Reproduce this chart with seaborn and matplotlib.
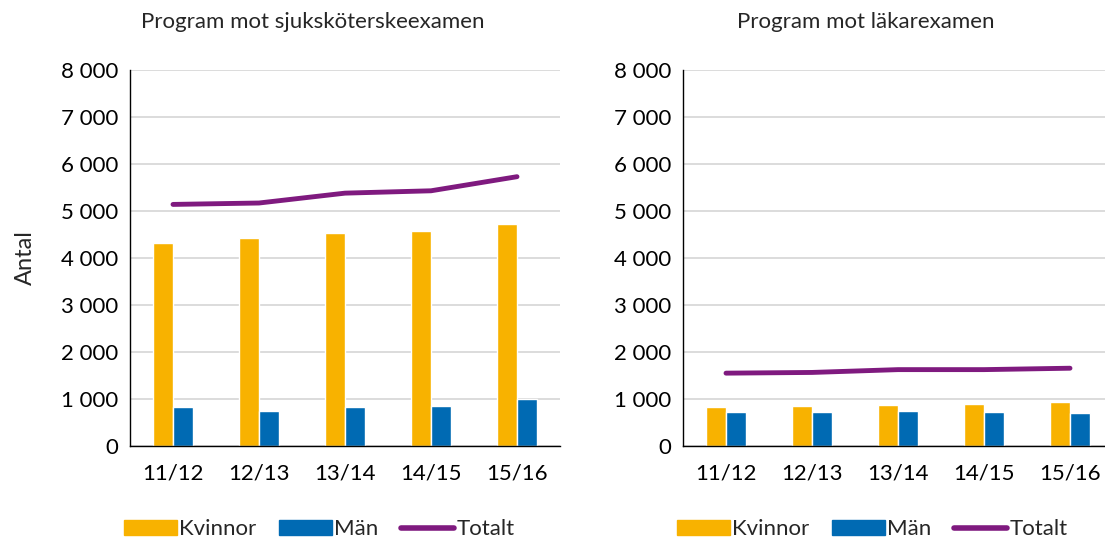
import pandas as pd
import matplotlib.pyplot as plt
import seaborn as sns
from matplotlib.patches import Patch
from matplotlib.lines import Line2D
from matplotlib.ticker import FuncFormatter

# läsår
years = ['11/12', '12/13', '13/14', '14/15', '15/16']

# sjuksköterskeexamen
sjuk_kvinnor = [4310, 4430, 4540, 4570, 4730]
sjuk_man = [830, 740, 840, 860, 1000]

# läkarexamen
lak_kvinnor = [820, 845, 880, 900, 945]
lak_man = [730, 720, 745, 725, 710]

titles = ['Program mot sjuksköterskeexamen', 'Program mot läkarexamen']
colors = {'Kvinnor': '#F8B200', 'Män': '#006AB3'}
total_color = '#7F1A7F'

sns.set_style('white')
plt.rcParams['font.family'] = ['Lato', 'DejaVu Sans']
plt.rcParams['font.size'] = 16


def make_df(kvinnor, man):
    rows = []
    for y, k, m in zip(years, kvinnor, man):
        rows.append([y, 'Kvinnor', k])
        rows.append([y, 'Män', m])
    return pd.DataFrame(rows, columns=['year', 'kon', 'antal'])


def draw(ax, kvinnor, man, title):
    df = make_df(kvinnor, man)
    sns.barplot(data=df, x='year', y='antal', hue='kon', palette=colors,
                width=0.47, ax=ax, legend=False, saturation=1)
    tot = pd.DataFrame({'year': years,
                        'antal': [k + m for k, m in zip(kvinnor, man)]})
    sns.lineplot(data=tot, x='year', y='antal', color=total_color,
                 linewidth=3.5, ax=ax, legend=False,
                 solid_capstyle='round')
    ax.set_ylim(0, 8000)
    ax.set_xlim(-0.5, 4.5)
    ax.set_yticks(range(0, 8001, 1000))
    ax.yaxis.set_major_formatter(
        FuncFormatter(lambda v, p: f'{int(v):,}'.replace(',', ' ')))
    ax.grid(axis='y', color='#d9d9d9', linewidth=1.3)
    ax.set_axisbelow(True)
    for s in ['top', 'right']:
        ax.spines[s].set_visible(False)
    for s in ['left', 'bottom']:
        ax.spines[s].set_color('black')
        ax.spines[s].set_linewidth(1)
    ax.tick_params(axis='both', direction='inout', length=9, width=1,
                   colors='black', labelsize=16, pad=4)
    ax.tick_params(axis='x', pad=8)
    ax.set_xlabel('')
    ax.set_ylabel('')
    ax.set_title(title, fontsize=16, pad=30, x=0.425)

    handles = [Patch(color=colors['Kvinnor'], label='Kvinnor'),
               Patch(color=colors['Män'], label='Män'),
               Line2D([], [], color=total_color, linewidth=4,
                      solid_capstyle='round', label='Totalt')]
    ax.legend(handles=handles, loc='center', ncol=3, frameon=False,
              bbox_to_anchor=(0.44, -0.222), fontsize=16,
              handlelength=2.4, handleheight=0.7, handletextpad=0.1,
              columnspacing=1.0)


fig = plt.figure(figsize=(11.05, 5.39), dpi=100)
ax1 = fig.add_axes([130 / 1105, 93 / 539, 430 / 1105, 376 / 539])
ax2 = fig.add_axes([683 / 1105, 93 / 539, 430 / 1105, 376 / 539])

draw(ax1, sjuk_kvinnor, sjuk_man, titles[0])
draw(ax2, lak_kvinnor, lak_man, titles[1])
ax1.set_ylabel('Antal', fontsize=17, labelpad=18)

fig.savefig('out.png', dpi=100)
